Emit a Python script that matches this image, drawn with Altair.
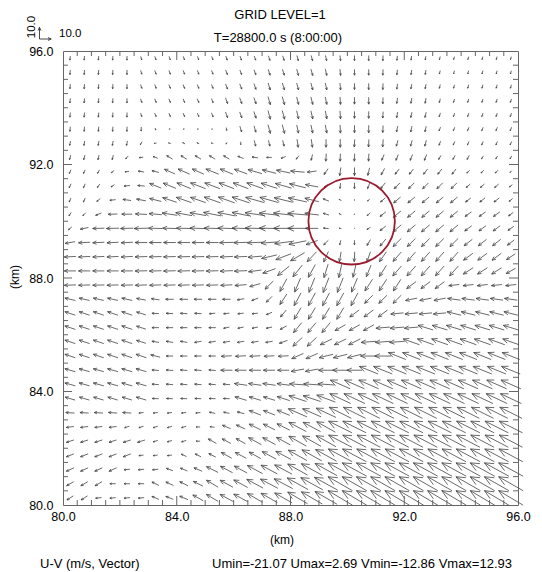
import math
import altair as alt
import pandas as pd

# ---------------- data ----------------
X_CENTERS = [80.25, 80.75, 81.25, 81.75, 82.25, 82.75, 83.25, 83.75, 84.25, 84.75, 85.25, 85.75,
             86.25, 86.75, 87.25, 87.75, 88.25, 88.75, 89.25, 89.75, 90.25, 90.75, 91.25, 91.75,
             92.25, 92.75, 93.25, 93.75, 94.25, 94.75, 95.25, 95.75]
Y_CENTERS = [95.75, 95.25, 94.75, 94.25, 93.75, 93.25, 92.75, 92.25, 91.75, 91.25, 90.75, 90.25,
             89.75, 89.25, 88.75, 88.25, 87.75, 87.25, 86.75, 86.25, 85.75, 85.25, 84.75, 84.25,
             83.75, 83.25, 82.75, 82.25, 81.75, 81.25, 80.75, 80.25]

U_ROWS = [
    [-0.3,-0.3,-0.3,-0.2,-0.1,0.8,1.0,1.0,1.0,1.0,1.0,1.2,1.2,1.2,1.3,1.3,1.2,1.2,1.0,0.5,0.0,0.0,-0.2,-0.4,-0.5,-0.5,-0.6,-0.6,-0.6,-0.6,-0.6,-0.6],
    [-0.3,-0.3,-0.3,-0.2,-0.1,1.0,1.2,1.2,1.2,1.2,1.2,1.5,1.5,1.5,1.6,1.6,1.5,1.5,1.2,0.6,0.0,0.0,-0.2,-0.5,-0.6,-0.6,-0.7,-0.7,-0.7,-0.7,-0.7,-0.7],
    [-0.3,-0.3,-0.3,-0.2,-0.1,1.1,1.3,1.3,1.3,1.3,1.3,1.7,1.7,1.7,1.8,1.8,1.6,1.6,1.3,0.6,0.0,0.0,-0.2,-0.6,-0.7,-0.7,-0.8,-0.8,-0.8,-0.8,-0.8,-0.8],
    [-0.4,-0.4,-0.4,-0.3,-0.1,1.1,1.3,1.3,1.3,1.3,1.4,1.8,1.8,1.9,2.0,2.0,1.6,1.6,1.3,0.5,0.0,0.0,-0.3,-0.7,-0.8,-0.8,-0.9,-0.9,-0.9,-0.9,-0.9,-0.9],
    [-0.4,-0.4,-0.4,-0.3,-0.1,1.0,1.3,1.3,1.3,1.3,1.4,1.8,1.8,1.9,2.0,2.0,1.6,1.6,1.3,0.5,0.0,0.0,-0.3,-0.8,-1.0,-1.0,-1.0,-1.0,-1.0,-1.0,-1.0,-1.0],
    [-0.3,-0.3,-0.3,-0.3,-0.2,-0.1,0.5,-1.2,-1.2,-1.2,-1.0,0.4,1.5,1.5,2.0,2.0,1.5,1.5,1.3,0.3,0.0,0.0,-0.3,-1.0,-1.0,-1.0,-1.2,-1.2,-1.2,-1.2,-1.2,-1.2],
    [-0.7,-0.7,-0.7,-0.7,-0.8,-1.5,-2.0,-2.0,-2.0,-2.0,-1.8,-1.0,0.0,1.2,1.2,1.2,1.0,1.0,0.0,0.0,-0.3,-0.3,-0.5,-1.3,-1.3,-1.3,-1.3,-1.3,-1.3,-1.3,-1.3,-1.3],
    [-1.0,-1.0,-1.0,-1.0,-2.2,-3.5,-4.0,-5.0,-5.0,-5.0,-5.0,-5.0,-5.0,-5.0,-4.5,-4.0,-2.5,-1.2,-0.3,-0.3,-0.3,-0.3,-2.0,-2.0,-2.0,-2.0,-2.0,-2.0,-2.0,-1.5,-1.5,-1.5],
    [-1.3,-1.5,-1.7,-2.5,-3.5,-5.0,-6.0,-9.0,-10.0,-10.0,-11.0,-11.0,-11.0,-12.0,-12.0,-12.0,-12.0,-8.0,-3.5,-1.0,0.0,-1.5,-3.0,-3.5,-3.5,-3.5,-3.5,-3.5,-2.5,-2.5,-2.5,-1.5],
    [-1.5,-1.5,-2.0,-3.0,-5.0,-6.0,-10.0,-11.0,-12.0,-13.0,-13.0,-13.0,-13.0,-14.0,-14.0,-14.0,-14.0,-11.0,-3.0,-0.5,0.0,-2.0,-4.0,-5.0,-5.0,-5.0,-5.0,-5.0,-3.5,-3.5,-3.5,-2.5],
    [-1.5,-1.5,-3.0,-5.0,-7.0,-8.0,-10.0,-12.0,-13.0,-13.0,-14.0,-14.0,-15.0,-16.0,-16.0,-16.0,-16.0,-12.0,-5.0,-2.0,-0.8,-2.0,-4.0,-6.0,-6.0,-6.0,-6.0,-6.0,-4.5,-4.5,-4.5,-3.0],
    [-2.0,-2.5,-5.0,-8.0,-9.0,-10.0,-11.0,-13.0,-14.0,-14.0,-15.0,-15.0,-15.0,-17.0,-17.0,-17.0,-17.0,-12.0,-5.0,-2.0,-0.8,-2.5,-5.0,-6.5,-6.5,-6.5,-6.5,-6.5,-5.5,-5.5,-5.5,-4.0],
    [-3.0,-7.0,-10.0,-11.0,-11.0,-12.0,-12.0,-12.0,-13.0,-14.0,-14.0,-15.0,-15.0,-17.0,-17.0,-17.0,-17.0,-11.0,-4.5,-2.0,-0.5,-3.0,-5.0,-7.0,-7.0,-7.0,-7.0,-7.0,-6.0,-6.0,-6.0,-5.0],
    [-8.5,-10.0,-10.0,-10.0,-10.0,-10.5,-10.5,-10.5,-10.5,-10.5,-10.5,-12.0,-12.0,-13.0,-14.0,-15.0,-15.0,-10.0,-4.0,-1.0,0.0,-3.0,-5.0,-7.0,-7.0,-7.0,-7.0,-7.0,-7.0,-7.0,-7.0,-6.0],
    [-10.0,-10.0,-10.0,-10.0,-10.0,-10.5,-10.5,-10.5,-10.5,-10.5,-10.5,-11.0,-11.0,-12.0,-13.0,-13.0,-12.0,-8.0,-4.0,-1.5,-0.5,-3.0,-6.0,-7.0,-7.0,-7.0,-7.0,-7.0,-8.0,-8.0,-8.0,-7.5],
    [-10.0,-10.0,-10.0,-10.0,-10.0,-10.5,-10.5,-10.5,-10.5,-10.5,-10.5,-11.0,-11.0,-11.0,-11.0,-10.0,-8.0,-6.0,-3.5,-2.5,-2.5,-4.0,-6.0,-7.5,-7.5,-7.5,-7.5,-7.5,-8.5,-8.5,-8.5,-8.0],
    [-10.0,-10.0,-10.0,-10.0,-10.0,-10.0,-10.0,-10.0,-10.0,-10.0,-10.0,-10.0,-10.0,-9.0,-7.0,-6.0,-5.0,-5.0,-5.0,-5.0,-5.0,-6.5,-6.5,-6.5,-8.0,-8.0,-8.0,-9.0,-9.0,-9.0,-9.0,-9.0],
    [-9.0,-9.0,-9.0,-9.0,-9.0,-8.0,-7.0,-7.0,-7.0,-7.0,-7.0,-7.0,-6.0,-5.5,-5.0,-6.0,-6.0,-6.0,-6.0,-6.0,-6.0,-7.0,-7.0,-7.0,-10.0,-10.0,-10.0,-11.0,-11.0,-11.0,-11.0,-11.0],
    [-9.0,-9.0,-9.0,-9.0,-9.0,-8.0,-6.0,-6.0,-6.0,-6.0,-5.0,-5.0,-5.0,-5.0,-5.0,-5.0,-6.0,-6.0,-6.0,-6.0,-8.0,-8.0,-8.0,-11.0,-11.0,-11.0,-11.0,-12.0,-12.0,-12.0,-12.0,-12.0],
    [-9.0,-9.0,-9.0,-9.0,-9.0,-8.0,-6.0,-6.0,-6.0,-6.0,-6.0,-5.0,-5.0,-5.0,-5.0,-5.5,-7.0,-7.0,-7.0,-9.0,-9.0,-9.0,-12.0,-12.0,-12.0,-13.0,-13.0,-13.0,-13.0,-13.0,-13.0,-13.0],
    [-9.0,-9.0,-9.0,-9.0,-9.0,-8.0,-6.0,-6.0,-6.0,-6.0,-6.0,-6.0,-6.0,-6.0,-6.0,-7.0,-8.0,-8.0,-10.0,-10.0,-10.0,-13.0,-13.0,-13.0,-14.0,-14.0,-14.0,-14.0,-14.0,-14.0,-14.0,-14.0],
    [-9.0,-9.0,-9.0,-9.0,-9.0,-9.0,-8.0,-6.0,-6.0,-6.0,-6.0,-9.0,-9.0,-9.0,-9.0,-9.0,-10.0,-10.0,-12.0,-12.0,-12.0,-14.0,-14.0,-15.0,-15.0,-15.0,-15.0,-15.0,-15.0,-15.0,-15.0,-15.0],
    [-9.0,-9.0,-9.0,-9.0,-9.0,-9.0,-6.0,-6.0,-6.0,-6.0,-6.0,-10.0,-10.0,-10.0,-10.0,-10.0,-11.0,-11.0,-13.0,-13.0,-13.0,-16.0,-16.0,-16.0,-16.0,-16.0,-16.0,-16.0,-16.0,-16.0,-16.0,-16.0],
    [-9.0,-9.0,-9.0,-9.0,-9.0,-9.0,-6.0,-6.0,-6.0,-6.0,-6.0,-6.0,-11.0,-11.0,-11.0,-11.0,-14.0,-14.0,-14.0,-17.0,-17.0,-17.0,-17.0,-17.0,-17.0,-17.0,-17.0,-17.0,-17.0,-17.0,-17.0,-17.0],
    [-8.5,-8.5,-8.5,-8.5,-8.5,-8.5,-5.5,-5.5,-5.5,-5.5,-5.5,-5.5,-10.0,-10.0,-10.0,-11.0,-15.0,-15.0,-16.0,-18.0,-18.0,-18.0,-18.0,-18.0,-18.0,-18.0,-18.0,-18.0,-18.0,-18.0,-18.0,-18.0],
    [-7.5,-7.5,-7.5,-7.5,-7.5,-4.0,-4.0,-4.0,-4.0,-4.0,-5.0,-5.0,-6.0,-10.0,-10.0,-11.0,-16.0,-16.0,-17.0,-19.0,-19.0,-19.0,-19.0,-19.0,-19.0,-19.0,-19.0,-19.0,-19.0,-19.0,-19.0,-19.0],
    [-6.5,-6.5,-6.5,-6.5,-4.0,-4.0,-4.0,-4.0,-4.0,-3.5,-4.0,-7.0,-7.5,-10.0,-10.0,-11.0,-15.0,-15.0,-16.0,-20.0,-20.0,-20.0,-20.0,-20.0,-20.0,-20.0,-20.0,-20.0,-20.0,-20.0,-20.0,-20.0],
    [-6.5,-6.5,-6.5,-6.5,-6.5,-6.5,-4.0,-4.0,-4.0,-3.5,-7.0,-7.5,-8.0,-11.0,-11.0,-12.0,-15.0,-16.0,-17.0,-20.0,-20.0,-20.0,-20.0,-20.0,-20.0,-20.0,-20.0,-20.0,-20.0,-20.0,-20.0,-20.0],
    [-6.5,-6.5,-6.5,-6.5,-6.5,-4.0,-4.0,-4.0,-4.5,-5.0,-6.0,-9.0,-9.5,-10.0,-12.0,-13.0,-16.0,-17.0,-18.0,-20.5,-20.5,-20.5,-20.5,-20.5,-20.5,-20.5,-20.5,-20.5,-20.5,-20.5,-20.5,-20.5],
    [-6.5,-6.5,-6.5,-6.5,-5.0,-5.0,-5.0,-5.5,-6.0,-7.0,-10.0,-10.5,-11.0,-13.0,-14.0,-15.0,-17.0,-18.0,-19.0,-21.0,-21.0,-21.0,-21.0,-21.0,-21.0,-21.0,-21.0,-21.0,-21.0,-21.0,-21.0,-21.0],
    [-6.0,-6.0,-6.0,-5.0,-5.0,-5.0,-6.0,-6.5,-7.0,-8.0,-10.0,-11.0,-12.0,-14.0,-15.0,-16.0,-18.0,-19.0,-20.0,-21.0,-21.0,-21.0,-21.0,-21.0,-21.0,-21.0,-21.0,-21.0,-21.0,-21.0,-21.0,-21.0],
    [-5.5,-5.5,-5.0,-5.0,-5.0,-5.0,-6.0,-6.5,-7.0,-9.0,-10.0,-11.0,-12.0,-13.0,-14.0,-15.0,-17.0,-18.0,-19.0,-21.0,-21.0,-21.0,-21.0,-21.0,-21.0,-21.0,-21.0,-21.0,-21.0,-21.0,-21.0,-21.0],
]

V_ROWS = [
    [-3.5,-3.5,-3.5,-3.5,-3.5,-3.0,-3.0,-3.0,-3.0,-3.0,-3.0,-3.5,-3.5,-3.5,-4.0,-4.0,-4.5,-4.5,-4.5,-4.5,-4.5,-4.5,-4.5,-3.8,-3.5,-3.3,-2.8,-2.5,-2.5,-2.5,-2.5,-2.5],
    [-4.0,-4.0,-4.0,-4.0,-4.0,-3.3,-3.3,-3.3,-3.3,-3.3,-3.3,-4.0,-4.0,-4.2,-5.0,-5.0,-5.5,-5.5,-5.5,-5.5,-5.0,-5.0,-5.0,-4.3,-4.0,-3.8,-3.0,-2.8,-2.8,-2.8,-2.8,-2.8],
    [-4.0,-4.0,-4.0,-4.0,-4.0,-3.3,-3.3,-3.3,-3.3,-3.3,-3.4,-4.5,-4.5,-5.0,-6.0,-6.0,-6.0,-6.0,-6.0,-6.0,-5.5,-5.5,-5.3,-4.5,-4.0,-4.0,-3.2,-3.0,-3.0,-3.0,-3.0,-3.0],
    [-4.0,-4.0,-4.0,-4.0,-4.0,-3.2,-3.2,-3.2,-3.2,-3.2,-3.5,-5.0,-5.0,-5.5,-7.0,-7.0,-6.5,-6.5,-6.5,-6.5,-6.0,-6.0,-5.5,-4.8,-4.5,-4.5,-3.3,-3.0,-3.0,-3.0,-3.0,-3.0],
    [-4.0,-4.0,-4.0,-4.0,-4.0,-3.0,-3.0,-3.0,-3.0,-3.0,-3.5,-5.0,-5.0,-5.8,-7.5,-7.5,-7.0,-7.0,-7.0,-7.0,-6.0,-6.0,-5.5,-4.8,-4.5,-4.5,-3.3,-3.0,-3.0,-3.0,-3.0,-3.0],
    [-4.0,-4.0,-4.0,-4.0,-4.0,-3.5,-1.8,-0.2,-0.2,-0.2,-0.3,-2.5,-5.0,-5.5,-7.5,-7.5,-7.0,-7.0,-7.0,-7.0,-6.5,-6.5,-6.0,-5.0,-5.0,-4.8,-3.3,-3.0,-3.0,-3.0,-3.0,-3.0],
    [-3.8,-3.8,-3.8,-3.8,-3.8,-2.5,-0.3,0.5,1.2,0.8,0.3,-1.5,-2.5,-5.0,-5.0,-5.0,-7.0,-7.0,-7.0,-7.0,-6.5,-6.5,-6.5,-5.0,-5.0,-5.0,-3.5,-3.0,-3.0,-3.0,-3.0,-3.0],
    [-4.0,-4.0,-4.0,-4.0,-2.5,-0.5,1.5,3.0,3.0,3.0,3.0,3.0,2.0,0.8,0.0,-1.5,-3.0,-5.0,-6.5,-6.5,-6.5,-6.5,-5.0,-5.0,-5.0,-5.0,-3.5,-3.5,-3.5,-2.5,-2.5,-2.5],
    [-3.3,-3.2,-3.0,-2.0,-0.5,0.8,1.5,4.0,4.5,4.5,4.5,4.5,4.0,3.5,3.0,2.5,1.0,-1.0,-5.0,-7.0,-7.0,-6.5,-5.5,-4.5,-4.5,-4.5,-4.5,-4.5,-2.5,-2.5,-2.5,-1.5],
    [-3.5,-3.5,-3.0,-2.0,-0.5,0.5,4.0,4.5,5.0,5.0,5.0,5.0,5.0,5.0,4.5,4.0,3.5,2.0,-2.0,-4.5,-5.0,-5.0,-5.0,-5.0,-5.0,-5.0,-5.0,-5.0,-3.0,-3.0,-3.0,-2.0],
    [-3.5,-3.5,-2.5,-0.5,1.0,1.5,2.5,4.0,4.5,4.5,5.0,5.0,5.0,4.5,4.5,4.0,3.5,3.0,2.0,1.0,0.0,-2.0,-3.5,-5.0,-5.0,-5.0,-5.0,-5.0,-3.5,-3.5,-3.5,-2.5],
    [-3.0,-2.5,-2.0,-0.3,0.0,0.5,1.0,2.0,2.5,2.5,3.0,3.0,3.0,2.5,2.0,2.0,1.5,1.5,1.5,1.0,-0.3,-2.5,-4.0,-5.5,-5.5,-5.5,-5.5,-5.5,-4.0,-4.0,-4.0,-3.0],
    [-2.5,-1.5,-0.3,-0.3,-0.3,-0.3,0.3,0.3,0.3,0.5,0.5,0.5,0.5,0.5,0.5,0.0,0.0,0.0,0.5,0.5,0.0,-2.0,-4.0,-6.0,-6.0,-6.0,-6.0,-6.0,-4.5,-4.5,-4.5,-3.5],
    [-1.5,-0.5,-0.5,-0.5,-0.5,0.0,0.0,0.0,0.0,0.0,0.0,-0.3,-0.3,-0.5,-1.0,-2.0,-3.0,-3.5,-4.0,-4.0,-4.0,-5.0,-6.0,-7.0,-7.0,-7.0,-7.0,-7.0,-5.5,-5.5,-5.5,-4.5],
    [-0.5,-0.5,-0.5,-0.5,-0.5,-0.3,-0.3,-0.3,-0.3,-0.3,-0.3,-0.5,-0.5,-1.0,-3.0,-5.0,-7.0,-8.5,-9.0,-8.5,-8.5,-8.5,-8.5,-8.0,-8.0,-8.0,-8.0,-8.0,-6.0,-6.0,-6.0,-5.0],
    [0.0,0.0,0.0,0.0,0.0,-0.3,-0.3,-0.3,-0.3,-0.3,-0.3,-0.5,-0.5,-1.5,-4.0,-8.0,-10.0,-11.0,-11.5,-11.5,-11.0,-10.0,-9.5,-8.5,-8.5,-8.5,-8.5,-8.5,-5.5,-5.5,-5.5,-4.5],
    [-0.3,-0.3,-0.3,-0.3,-0.3,-0.3,-0.3,-0.3,-0.3,-0.3,-0.3,-0.5,-0.8,-2.5,-7.0,-11.0,-12.0,-12.5,-12.8,-12.5,-12.0,-10.0,-10.0,-10.0,-6.0,-6.0,-6.0,-1.0,-1.0,-1.0,-1.0,-1.0],
    [2.0,2.0,2.0,2.0,2.0,1.5,1.0,0.0,0.0,0.0,0.0,0.0,-1.0,-2.0,-5.0,-9.0,-11.0,-11.0,-11.0,-11.0,-11.0,-7.0,-7.0,-7.0,-2.0,-2.0,-2.0,1.5,1.5,1.5,1.5,1.5],
    [3.0,3.0,3.0,3.0,3.0,2.5,0.3,0.3,0.3,0.3,-0.5,-0.5,-0.5,-0.5,-2.0,-6.0,-10.0,-10.0,-10.0,-10.0,-6.0,-6.0,-6.0,-1.0,-1.0,-1.0,-1.0,3.0,3.0,3.0,3.0,3.0],
    [3.0,3.0,3.0,3.0,3.0,2.5,0.0,0.0,0.0,0.0,0.0,-1.0,-1.0,-1.0,-1.0,-3.0,-8.5,-8.5,-8.5,-5.0,-5.0,-5.0,-1.0,-1.0,-1.0,4.0,4.0,4.0,4.0,4.0,4.0,4.0],
    [3.0,3.0,3.0,3.0,3.0,2.5,1.0,1.0,1.0,-1.0,-1.0,-1.0,-1.0,-1.0,-1.0,-2.5,-7.5,-7.5,-5.0,-5.0,-5.0,-1.0,-1.0,-1.0,5.0,5.0,5.0,5.0,5.0,5.0,5.0,5.0],
    [3.0,3.0,3.0,3.0,3.0,3.0,2.0,0.0,0.0,0.0,0.0,-0.5,-0.5,-0.5,-0.5,-0.5,-4.5,-4.5,-3.0,-3.0,-3.0,0.0,0.0,6.0,6.0,6.0,6.0,6.0,6.0,6.0,6.0,6.0],
    [2.5,2.5,2.5,2.5,2.5,2.5,0.5,0.5,0.5,0.5,0.5,0.0,0.0,0.0,0.0,0.0,-2.0,-2.0,0.0,0.0,0.0,6.5,6.5,6.5,6.5,6.5,6.5,6.5,6.5,6.5,6.5,6.5],
    [2.5,2.5,2.5,2.5,2.5,2.5,0.5,0.5,0.5,0.5,0.5,0.5,1.5,1.5,1.5,1.5,1.0,1.0,1.0,7.5,7.5,7.5,7.5,7.5,7.5,7.5,7.5,7.5,7.5,7.5,7.5,7.5],
    [2.5,2.5,2.5,2.5,2.5,2.5,0.2,0.2,0.2,0.2,0.2,0.2,3.0,3.0,3.0,3.5,5.0,5.0,6.0,8.5,8.5,8.5,8.5,8.5,8.5,8.5,8.5,8.5,8.5,8.5,8.5,8.5],
    [0.5,0.5,0.5,0.5,0.5,-0.5,-0.5,-0.5,-0.5,-0.5,1.0,1.0,1.5,4.0,4.0,4.5,7.0,7.0,8.0,9.5,9.5,9.5,9.5,9.5,9.5,9.5,9.5,9.5,9.5,9.5,9.5,9.5],
    [-0.8,-0.8,-0.8,-0.8,-1.2,-1.2,-1.2,-1.2,-1.2,0.0,0.5,3.0,3.5,5.0,5.0,5.5,8.0,8.0,9.0,10.0,10.0,10.0,10.0,10.0,10.0,10.0,10.0,10.0,10.0,10.0,10.0,10.0],
    [-2.0,-2.0,-2.0,-2.0,-2.0,-2.0,-1.2,-1.2,-1.2,0.0,4.0,4.0,4.5,6.0,6.0,6.5,8.5,9.0,9.5,10.5,10.5,10.5,10.5,10.5,10.5,10.5,10.5,10.5,10.5,10.5,10.5,10.5],
    [-2.5,-2.5,-2.5,-2.5,-2.5,-0.5,-0.5,-0.5,2.0,2.5,3.0,5.0,5.0,5.5,6.5,7.0,9.0,9.5,10.0,11.0,11.0,11.0,11.0,11.0,11.0,11.0,11.0,11.0,11.0,11.0,11.0,11.0],
    [-3.0,-3.0,-3.0,-3.0,-0.5,-0.5,-0.5,2.0,2.5,3.0,5.0,5.5,6.0,7.0,7.5,8.0,9.5,10.0,10.5,11.5,11.5,11.5,11.5,11.5,11.5,11.5,11.5,11.5,11.5,11.5,11.5,11.5],
    [-3.5,-3.5,-3.5,0.0,0.0,0.0,3.0,3.0,3.5,4.0,6.0,6.0,6.5,7.5,8.0,8.5,10.0,10.5,11.0,12.0,12.0,12.0,12.0,12.0,12.0,12.0,12.0,12.0,12.0,12.0,12.0,12.0],
    [-3.5,-3.5,-0.5,-0.5,-0.5,-0.5,2.5,2.5,3.0,5.0,6.0,6.0,6.5,7.5,8.0,8.5,10.0,10.5,11.0,12.5,12.5,12.5,12.5,12.5,12.5,12.5,12.5,12.5,12.5,12.5,12.5,12.5],
]

MAJOR_TICKS = [80.0, 84.0, 88.0, 92.0, 96.0]
INNER_MAJOR = [84.0, 88.0, 92.0]
MINOR_TICKS = [80.5, 81.0, 81.5, 82.0, 82.5, 83.0, 83.5, 84.5, 85.0, 85.5, 86.0, 86.5, 87.0, 87.5,
               88.5, 89.0, 89.5, 90.0, 90.5, 91.0, 91.5, 92.5, 93.0, 93.5, 94.0, 94.5, 95.0, 95.5]
CIRCLE_X = [90.15]
CIRCLE_Y = [90.0]
CIRCLE_R_KM = [1.52]
TITLE_LINES = ["GRID LEVEL=1", "T=28800.0 s (8:00:00)"]
REF_LABEL = "10.0"
REF_SPEED = 10.0
AXIS_TITLE = "(km)"
FOOTER_LEFT = "U-V (m/s, Vector)"
FOOTER_RIGHT = "Umin=-21.07 Umax=2.69 Vmin=-12.86 Vmax=12.93"

# ---------------- geometry / style ----------------
W, H = 455, 454
PX_PER_KM = W / 16.0
VEC_KM = 0.041          # km of arrow per m/s
HEAD_FRAC = 0.35
HEAD_ANG = math.radians(24)
FONT = "Liberation Sans"
AXC = "#666666"
ARC = "#444444"

segments = []
for j, yc in enumerate(Y_CENTERS):
    for i, xc in enumerate(X_CENTERS):
        u = U_ROWS[j][i]
        v = V_ROWS[j][i]
        dx, dy = u * VEC_KM, v * VEC_KM
        x0, y0 = xc - dx / 2, yc - dy / 2
        x1, y1 = xc + dx / 2, yc + dy / 2
        segments.append({"x": x0, "y": y0, "x2": x1, "y2": y1})
        L = math.hypot(dx, dy)
        if L > 0:
            th = math.atan2(dy, dx)
            h = HEAD_FRAC * L
            for s in (1, -1):
                a = th + s * HEAD_ANG
                segments.append({"x": x1, "y": y1,
                                 "x2": x1 - h * math.cos(a), "y2": y1 - h * math.sin(a)})
seg_df = pd.DataFrame(segments)

xs = alt.Scale(domain=[80, 96], nice=False, zero=False)
ys = alt.Scale(domain=[80, 96], nice=False, zero=False)

arrows = alt.Chart(seg_df).mark_rule(color=ARC, strokeWidth=0.8).encode(
    x=alt.X("x:Q", scale=xs, title=None,
            axis=alt.Axis(values=MAJOR_TICKS, format=".1f", labelFlush=False,
                          labelOverlap=False, labelPadding=5)),
    y=alt.Y("y:Q", scale=ys, title=None,
            axis=alt.Axis(values=MAJOR_TICKS, format=".1f", labelFlush=False,
                          labelOverlap=False, labelPadding=10)),
    x2="x2:Q", y2="y2:Q",
)


def tick_layer(values, side, length):
    n = len(values)
    if side in ("bottom", "top"):
        yv = 80.0 if side == "bottom" else 96.0
        df = pd.DataFrame({"x": values, "y": [yv] * n})
        off = -length / 2 if side == "bottom" else length / 2
        mk = alt.Chart(df).mark_tick(orient="vertical", size=length, thickness=1,
                                     yOffset=off, color=AXC, opacity=1)
    else:
        xv = 80.0 if side == "left" else 96.0
        df = pd.DataFrame({"x": [xv] * n, "y": values})
        off = length / 2 if side == "left" else -length / 2
        mk = alt.Chart(df).mark_tick(orient="horizontal", size=length, thickness=1,
                                     xOffset=off, color=AXC, opacity=1)
    return mk.encode(x=alt.X("x:Q", scale=xs, title=None),
                     y=alt.Y("y:Q", scale=ys, title=None))


ticks = []
for side in ("bottom", "top", "left", "right"):
    ticks.append(tick_layer(MINOR_TICKS, side, 5))
    ticks.append(tick_layer(INNER_MAJOR, side, 9))

circ_df = pd.DataFrame({"x": CIRCLE_X, "y": CIRCLE_Y, "r": CIRCLE_R_KM})
circ_df["s"] = (2 * circ_df["r"] * PX_PER_KM) ** 2
circle = alt.Chart(circ_df).mark_point(shape="circle", filled=False, color="#9a1b2e",
                                       strokeWidth=1.8, opacity=1).encode(
    x=alt.X("x:Q", scale=xs, title=None),
    y=alt.Y("y:Q", scale=ys, title=None),
    size=alt.Size("s:Q", scale=None, legend=None),
)


def text(label, x, y, size=13, align="center", angle=0):
    return alt.Chart(pd.DataFrame({"t": [label]})).mark_text(
        align=align, baseline="middle", fontSize=size, font=FONT, color="black", angle=angle
    ).encode(text="t:N", x=alt.value(x), y=alt.value(y))


texts = [
    text(TITLE_LINES[0], 217, -36),
    text(TITLE_LINES[1], 215, -13),
    text(REF_LABEL, -31, -24, size=11.5, angle=270),
    text(REF_LABEL, -4, -17, size=11.5, align="left"),
    text(AXIS_TITLE, 219, 489, size=12),
    text(AXIS_TITLE, -48, 226, size=12, angle=270),
    text(FOOTER_LEFT, -23, 513, size=13, align="left"),
    text(FOOTER_RIGHT, 449, 513, size=13, align="right"),
]

# reference arrows (legend), in pixels
Lp = REF_SPEED * VEC_KM * PX_PER_KM
cx, cy = -23.5, -12.0
hp = 0.3 * Lp
ref_segs = [
    (cx, cy, cx, cy - Lp),
    (cx, cy - Lp, cx - hp * math.sin(HEAD_ANG), cy - Lp + hp * math.cos(HEAD_ANG)),
    (cx, cy - Lp, cx + hp * math.sin(HEAD_ANG), cy - Lp + hp * math.cos(HEAD_ANG)),
    (cx, cy, cx + Lp, cy),
    (cx + Lp, cy, cx + Lp - hp * math.cos(HEAD_ANG), cy - hp * math.sin(HEAD_ANG)),
    (cx + Lp, cy, cx + Lp - hp * math.cos(HEAD_ANG), cy + hp * math.sin(HEAD_ANG)),
]
ref_layers = [
    alt.Chart(pd.DataFrame({"a": [0]})).mark_rule(color="#333333", strokeWidth=0.9).encode(
        x=alt.value(a), y=alt.value(b), x2=alt.value(c), y2=alt.value(d))
    for (a, b, c, d) in ref_segs
]

chart = alt.layer(arrows, *ticks, circle, *texts, *ref_layers).properties(
    width=W, height=H,
    autosize=alt.AutoSizeParams(type="none"),
    padding={"left": 55, "top": 43, "right": 16, "bottom": 72},
).configure_view(stroke=AXC, strokeWidth=1).configure_axis(
    grid=False, ticks=False, domain=False, labelFont=FONT, labelFontSize=12.5,
    labelColor="#000000",
)

chart.save("out.html", embed_options={"renderer": "svg", "actions": False})
